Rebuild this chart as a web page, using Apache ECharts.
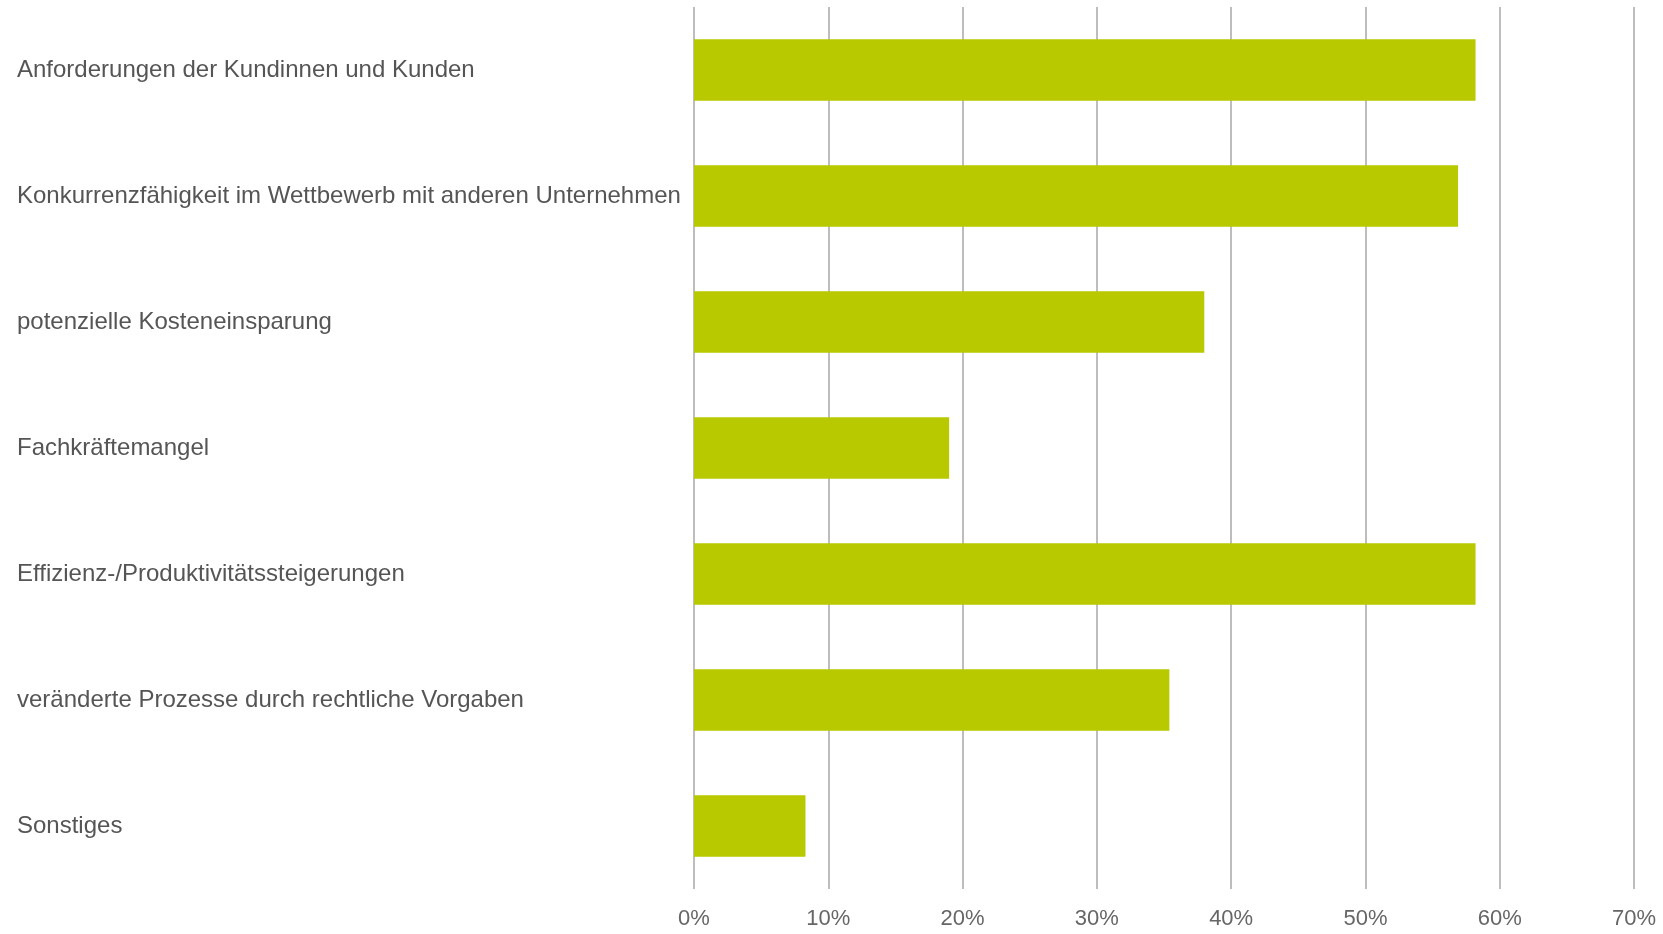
<!DOCTYPE html>
<html>
<head>
<meta charset="utf-8">
<script src="https://cdn.jsdelivr.net/npm/echarts@6/dist/echarts.min.js"></script>
<style>
  html, body { margin: 0; padding: 0; background: #fff; }
  #chart { width: 1663px; height: 934px; }
</style>
</head>
<body>
<div id="chart"></div>
<script>
// Kategorien (von oben nach unten)
const categories = [
  'Anforderungen der Kundinnen und Kunden',
  'Konkurrenzfähigkeit im Wettbewerb mit anderen Unternehmen',
  'potenzielle Kosteneinsparung',
  'Fachkräftemangel',
  'Effizienz-/Produktivitätssteigerungen',
  'veränderte Prozesse durch rechtliche Vorgaben',
  'Sonstiges'
];

// Anteile in Prozent
const shares = [58.2, 56.9, 38.0, 19.0, 58.2, 35.4, 8.3];

const chart = echarts.init(document.getElementById('chart'));

const option = {
  animation: false,
  grid: {
    left: 694,
    right: 29,
    top: 7,
    bottom: 45,
    containLabel: false
  },
  xAxis: {
    type: 'value',
    min: 0,
    max: 70,
    interval: 10,
    axisLine: { show: false },
    axisTick: { show: false },
    splitLine: {
      lineStyle: { color: '#bdbdbd', width: 2 }
    },
    axisLabel: {
      formatter: '{value}%',
      color: '#666',
      fontFamily: 'Liberation Sans',
      fontSize: 22,
      margin: 19
    }
  },
  yAxis: {
    type: 'category',
    data: categories,
    inverse: true,
    axisLine: { show: false },
    axisTick: { show: false },
    axisLabel: {
      align: 'left',
      margin: 677,
      padding: [4, 0, 0, 0],
      color: '#555',
      fontFamily: 'Liberation Sans',
      fontSize: 24
    }
  },
  series: [{
    type: 'bar',
    data: shares,
    barCategoryGap: '51%',
    itemStyle: { color: '#b9c900' }
  }]
};

chart.setOption(option);
</script>
</body>
</html>
